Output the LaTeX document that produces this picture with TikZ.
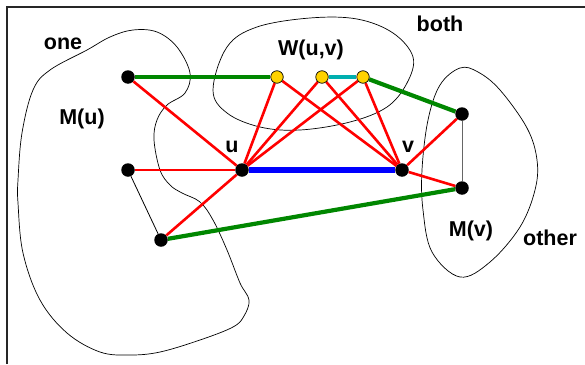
\documentclass[tikz,border=0pt]{standalone}
\usepackage{fontspec}
\setmainfont{Liberation Sans}
\usetikzlibrary{backgrounds}
\definecolor{gold}{RGB}{255,210,0}
\definecolor{grn}{RGB}{0,135,0}
\definecolor{tealc}{RGB}{0,175,175}
\definecolor{bluec}{RGB}{0,0,255}
\definecolor{redc}{RGB}{255,0,0}
\begin{document}
\begin{tikzpicture}[x=1pt,y=-1pt,
  dot/.style={circle,fill=black,inner sep=0pt,minimum size=13.5pt},
  wdot/.style={circle,fill=gold,draw=black,line width=0.7pt,inner sep=0pt,minimum size=12.5pt},
  redge/.style={redc,line width=2.6pt},
  gedge/.style={grn,line width=4.2pt},
  tedge/.style={tealc,line width=3.8pt},
  bedge/.style={bluec,line width=5.5pt},
  thin edge/.style={black,line width=0.8pt},
  blob/.style={black,line width=0.7pt},
  lbl/.style={font=\fontsize{21.5}{24}\selectfont\bfseries,inner sep=0pt,anchor=base}]
\useasboundingbox (0,0) rectangle (585,364);
% nodes
\node[dot] (a1) at (128,77) {};
\node[dot] (a2) at (128,170) {};
\node[dot] (a3) at (161,240) {};
\node[dot] (u) at (242,170) {};
\node[dot] (v) at (402,170) {};
\node[dot] (b1) at (462,114) {};
\node[dot] (b2) at (462,188) {};
\node[wdot] (w1) at (277,77) {};
\node[wdot] (w2) at (322,77) {};
\node[wdot] (w3) at (363,77) {};
\begin{pgfonlayer}{background}
% frame
\draw[line width=1.2pt,black!85] (7,364) -- (7,7) -- (585,7);
% blobs
\draw[blob] plot[smooth cycle,tension=0.6] coordinates {
 (50,70) (87,50) (110,37) (133,30) (157,32) (177,47) (190,73) (185,93)
 (167,105) (157,120) (154,140) (160,170) (170,185) (182,193) (200,202)
 (213,220) (227,250) (240,283) (249,300) (244,316) (233,327) (200,340)
 (160,352) (130,355) (100,352) (67,333) (40,300) (23,253) (18,203)
 (18,180) (22,133) (33,90)};
\draw[blob] plot[smooth cycle,tension=0.6] coordinates {
 (213,90) (227,47) (257,27) (310,18) (357,19) (393,33) (413,57) (407,83)
 (387,107) (350,122) (300,130) (260,127) (227,113)};
\draw[blob] plot[smooth cycle,tension=0.6] coordinates {
 (460,68) (440,85) (428,120) (422,170) (423,210) (432,252) (460,277)
 (490,262) (520,227) (535,190) (537,160) (527,128) (500,90) (478,72)};
% edges
\draw[thin edge] (a2) -- (a3);
\draw[black!60,line width=1pt] (b1) -- (b2);
\draw[redge] (a1) -- (u);
\draw[redge] (a2) -- (u);
\draw[redge] (a3) -- (u);
\draw[redge] (u) -- (w1);
\draw[redge] (u) -- (w2);
\draw[redge] (u) -- (w3);
\draw[redge] (w1) -- (v);
\draw[redge] (w2) -- (v);
\draw[redge] (w3) -- (v);
\draw[redge] (v) -- (b1);
\draw[redge] (v) -- (b2);
\draw[gedge] (a1) -- (w1);
\draw[gedge] (w3) -- (b1);
\draw[gedge] (a3) -- (b2);
\draw[tedge] (w2) -- (w3);
\draw[bedge] (u) -- (v);
\end{pgfonlayer}
% labels
\node[lbl] (lone) at (63,49) {one};
\node[lbl] (lmu) at (82,124) {M(u)};
\node[lbl] (lu) at (232,152) {u};
\node[lbl] (lw) at (311,55) {W(u,v)};
\node[lbl] (lboth) at (440,31) {both};
\node[lbl] (lv) at (408,152) {v};
\node[lbl] (lmv) at (471,236) {M(v)};
\node[lbl] (lother) at (550,245) {other};
\end{tikzpicture}
\end{document}
